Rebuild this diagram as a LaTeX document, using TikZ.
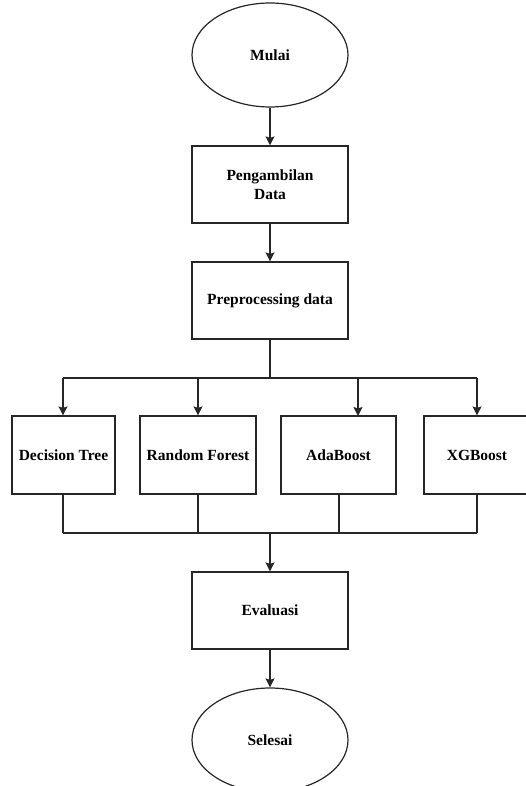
\documentclass[tikz,border=0pt]{standalone}
\usepackage{fontspec}
\setmainfont{Liberation Serif}
\usetikzlibrary{shapes.geometric,arrows.meta}
\tikzset{
  base/.style={draw=black!85, line width=1.2pt, inner sep=0pt, align=center,
    font=\fontsize{15.5}{19}\selectfont\bfseries},
  terminal/.style={base, ellipse, minimum width=156pt, minimum height=104pt},
  procbox/.style={base, rectangle, minimum height=77pt},
  conn/.style={draw=black!85, line width=1.2pt},
  arr/.style={conn, -{Stealth[length=9pt,width=9pt,inset=1.5pt]}}
}
\begin{document}
\begin{tikzpicture}[x=1pt,y=-1pt]
\useasboundingbox (0,0) rectangle (526,786);
\clip (0,0) rectangle (526,786);
\node[terminal] (mulai) at (270,55) {Mulai};
\node[procbox, minimum width=156pt] (ambil) at (270,184.5) {Pengambilan\\Data};
\node[procbox, minimum width=156pt] (prep) at (270,300.5) {Preprocessing data};
\node[procbox, minimum width=103pt, minimum height=78pt] (dt) at (63.5,455) {Decision Tree};
\node[procbox, minimum width=116pt, minimum height=78pt] (rf) at (198,455) {Random Forest};
\node[procbox, minimum width=115pt, minimum height=78pt] (ada) at (338.5,455) {AdaBoost};
\node[procbox, minimum width=106pt, minimum height=78pt] (xg) at (477,455) {XGBoost};
\node[procbox, minimum width=156pt] (eval) at (270,610.5) {Evaluasi};
\node[terminal] (selesai) at (270,740) {Selesai};

\coordinate (split) at (270,378);
\coordinate (sL) at (63,378);
\coordinate (sR) at (477,378);
\coordinate (join) at (270,533);
\coordinate (jL) at (63,533);
\coordinate (jR) at (477,533);

\draw[arr] (mulai) -- (ambil);
\draw[arr] (ambil) -- (prep);
\draw[conn] (prep.south) -- (split);
\draw[conn] (sL) -- (sR);
\draw[arr] (sL) -- (sL |- dt.north);
\draw[arr] (198,378) -- (rf.north);
\draw[arr] (358,378) -- (358,416);
\draw[arr] (sR) -- (xg.north);
\draw[conn] (dt.south -| jL) -- (jL);
\draw[conn] (rf.south) -- (198,533);
\draw[conn] (339,494) -- (339,533);
\draw[conn] (xg.south) -- (jR);
\draw[conn] (jL) -- (jR);
\draw[arr] (join) -- (eval);
\draw[arr] (eval) -- (selesai);
\end{tikzpicture}
\end{document}
